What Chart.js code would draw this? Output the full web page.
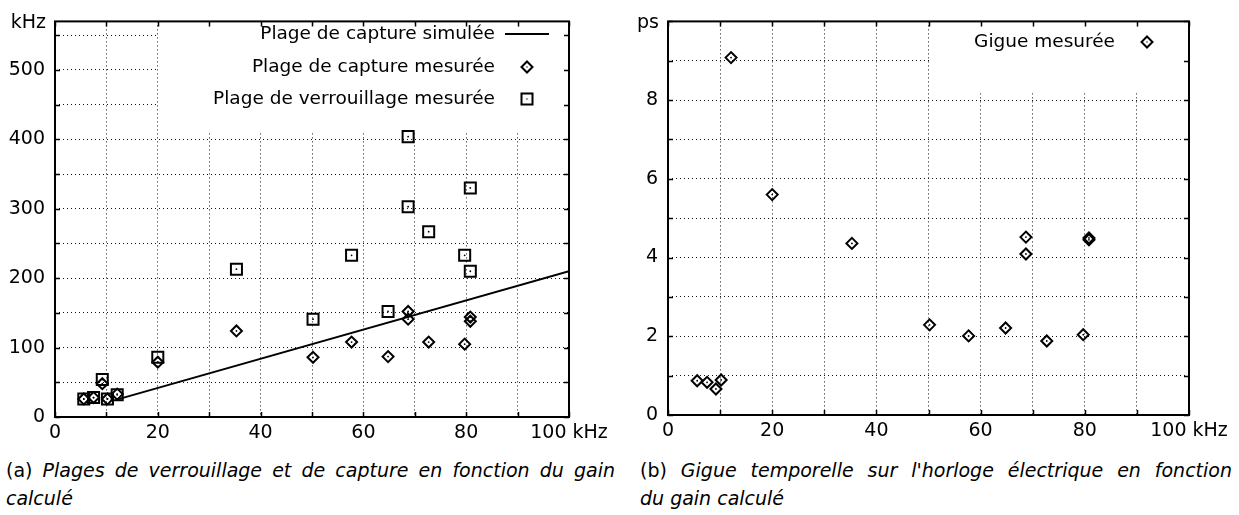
<!DOCTYPE html>
<html>
<head>
<meta charset="utf-8">
<script src="https://cdn.jsdelivr.net/npm/chart.js@4.4.0/dist/chart.umd.min.js"></script>
<style>
  body { margin: 0; background: #fff; width: 1239px; height: 515px; position: relative; overflow: hidden;
         font-family: "DejaVu Sans", sans-serif; color: #000; }
  canvas { position: absolute; top: 0; }
  #plages { left: 0; }
  #gigue { left: 620px; }
  .cap { position: absolute; top: 456px; font-size: 19px; line-height: 28px; }
  .cap .l1 { text-align: justify; text-align-last: justify; white-space: nowrap; }
</style>
</head>
<body>
<canvas id="plages" width="620" height="445"></canvas>
<canvas id="gigue" width="619" height="445"></canvas>

<div class="cap" style="left:6px; width:609px">
  <div class="l1">(a) <i>Plages de verrouillage et de capture en fonction du gain</i></div>
  <div><i>calculé</i></div>
</div>
<div class="cap" style="left:640px; width:592px">
  <div class="l1">(b) <i>Gigue temporelle sur l'horloge électrique en fonction</i></div>
  <div><i>du gain calculé</i></div>
</div>

<script>
// gain calculé (kHz), même abscisse pour les deux figures
const gain = [5.6, 7.5, 9.2, 10.2, 12.1, 20, 35.3, 50.2, 57.7, 64.8, 68.7, 68.7, 72.7, 79.7, 80.8, 80.8];

// (a) plages en kHz
const captureMesuree = [26, 28, 48, 26, 33, 79, 124, 86, 108, 87, 152, 141, 108, 105, 144, 138];
const verrouillageMesure = [26, 28, 54, 26, 32, 86, 213, 141, 233, 152, 404, 303, 267, 233, 330, 210];
const simGain = [12, 100];
const simCapture = [25, 210];

// (b) gigue en ps
const gigue = [0.87, 0.83, 0.66, 0.89, 9.08, 5.6, 4.36, 2.29, 2.01, 2.21, 4.52, 4.09, 1.88, 2.04, 4.5, 4.45];

const FONT = '"DejaVu Sans", sans-serif';
const serie = (xs, ys) => xs.map((x, i) => ({ x: x, y: ys[i] }));

function symbole(ctx, kind, x, y) {
  ctx.strokeStyle = '#000';
  ctx.lineWidth = 2;
  ctx.beginPath();
  if (kind === 'line') {
    ctx.moveTo(x - 22, y);
    ctx.lineTo(x + 22, y);
    ctx.stroke();
    return;
  }
  if (kind === 'rectRot') {
    ctx.moveTo(x, y - 5.5); ctx.lineTo(x + 5.5, y); ctx.lineTo(x, y + 5.5); ctx.lineTo(x - 5.5, y); ctx.closePath();
  } else {
    ctx.rect(x - 5.5, y - 5.5, 11, 11);
  }
  ctx.stroke();
  ctx.fillStyle = '#000';
  ctx.fillRect(x - 0.6, y - 0.6, 1.2, 1.2);
}

// cadre façon gnuplot : bordure pleine, graduations vers l'intérieur, légende sur fond blanc
const cadre = {
  id: 'cadre',
  beforeDatasetsDraw(chart, args, opts) {
    const ctx = chart.ctx, a = chart.chartArea;
    ctx.save();
    ctx.fillStyle = '#fff';
    ctx.fillRect(opts.box[0], opts.box[1], opts.box[2], opts.box[3]);
    ctx.font = '18.5px ' + FONT;
    ctx.textAlign = 'right';
    ctx.textBaseline = 'middle';
    opts.entries.forEach((e, i) => {
      ctx.fillStyle = '#000';
      ctx.fillText(e.text, a.right - 74, opts.rowY[i]);
      symbole(ctx, e.kind, a.right - 42, opts.rowY[i]);
    });
    ctx.restore();
  },
  afterDatasetsDraw(chart, args, opts) {
    const ctx = chart.ctx, a = chart.chartArea;
    const sx = chart.scales.x, sy = chart.scales.y;
    ctx.save();
    ctx.strokeStyle = '#000';
    ctx.lineWidth = 1.5;
    ctx.beginPath();
    sx.ticks.forEach(t => {
      const px = Math.round(sx.getPixelForValue(t.value)) + 0.5;
      ctx.moveTo(px, a.bottom); ctx.lineTo(px, a.bottom - 5);
      ctx.moveTo(px, a.top); ctx.lineTo(px, a.top + 5);
    });
    sy.ticks.forEach(t => {
      const py = Math.round(sy.getPixelForValue(t.value)) + 0.5;
      ctx.moveTo(a.left, py); ctx.lineTo(a.left + 5, py);
      ctx.moveTo(a.right, py); ctx.lineTo(a.right - 5, py);
    });
    ctx.stroke();
    ctx.lineWidth = 2;
    ctx.strokeRect(a.left, a.top, a.right - a.left, a.bottom - a.top);
    // unité de l'axe vertical
    ctx.fillStyle = '#000';
    ctx.font = '19px ' + FONT;
    ctx.textAlign = 'right';
    ctx.textBaseline = 'middle';
    ctx.fillText(opts.unit, a.left - 9, a.top + 2);
    ctx.restore();
  }
};

function echelles(yMax, yStep, yEvery, yWidth, xHeight) {
  const tickFont = { family: FONT, size: 19 };
  const grid = { color: '#111', lineWidth: 1, drawTicks: false };
  const border = { display: false, dash: [1, 3] };
  return {
    x: {
      type: 'linear', min: 0, max: 100,
      grid: grid, border: border,
      ticks: {
        stepSize: 10, autoSkip: false, maxRotation: 0, color: '#000', font: tickFont, padding: 5,
        callback: v => v % 20 === 0 ? (v === 100 ? '100 kHz' : String(v)) : ''
      },
      afterFit: s => { s.height = xHeight; }
    },
    y: {
      type: 'linear', min: 0, max: yMax,
      grid: grid, border: border,
      ticks: {
        stepSize: yStep, includeBounds: false, color: '#000', font: tickFont, padding: 10,
        callback: v => (v < yMax && Math.abs(v / yEvery - Math.round(v / yEvery)) < 1e-6) ? String(v) : ''
      },
      afterFit: s => { s.width = yWidth; }
    }
  };
}

const marque = (label, data, style, r) => ({
  label: label, data: data, pointStyle: style, pointRadius: r, pointHoverRadius: r,
  borderColor: '#000', borderWidth: 2, backgroundColor: 'rgba(0,0,0,0)'
});
const points = data => ({
  data: data, pointStyle: 'circle', pointRadius: 0.9, pointHoverRadius: 0.9,
  borderWidth: 0, backgroundColor: '#000'
});

new Chart(document.getElementById('plages'), {
  type: 'scatter',
  data: {
    datasets: [
      { label: 'Plage de capture simulée', data: serie(simGain, simCapture), showLine: true,
        pointRadius: 0, borderColor: '#000', borderWidth: 2 },
      marque('Plage de capture mesurée', serie(gain, captureMesuree), 'rectRot', 5.5),
      marque('Plage de verrouillage mesurée', serie(gain, verrouillageMesure), 'rect', 7.8),
      points(serie(gain, captureMesuree).concat(serie(gain, verrouillageMesure)))
    ]
  },
  options: {
    responsive: false, animation: false, devicePixelRatio: 1, events: [],
    layout: { padding: { left: 0, top: 14, right: 51, bottom: 0 } },
    scales: echelles(570, 50, 100, 55, 28),
    plugins: {
      legend: { display: false }, tooltip: { enabled: false },
      cadre: {
        unit: 'kHz',
        box: [158, 15, 410, 117],
        rowY: [34, 67, 99],
        entries: [
          { text: 'Plage de capture simulée', kind: 'line' },
          { text: 'Plage de capture mesurée', kind: 'rectRot' },
          { text: 'Plage de verrouillage mesurée', kind: 'rect' }
        ]
      }
    }
  },
  plugins: [cadre]
});

new Chart(document.getElementById('gigue'), {
  type: 'scatter',
  data: {
    datasets: [
      marque('Gigue mesurée', serie(gain, gigue), 'rectRot', 5.5),
      points(serie(gain, gigue))
    ]
  },
  options: {
    responsive: false, animation: false, devicePixelRatio: 1, events: [],
    layout: { padding: { left: 0, top: 14, right: 50, bottom: 0 } },
    scales: echelles(10, 1, 2, 48, 30),
    plugins: {
      legend: { display: false }, tooltip: { enabled: false },
      cadre: {
        unit: 'ps',
        box: [309, 15, 259, 76],
        rowY: [42],
        entries: [{ text: 'Gigue mesurée', kind: 'rectRot' }]
      }
    }
  },
  plugins: [cadre]
});
</script>
</body>
</html>
